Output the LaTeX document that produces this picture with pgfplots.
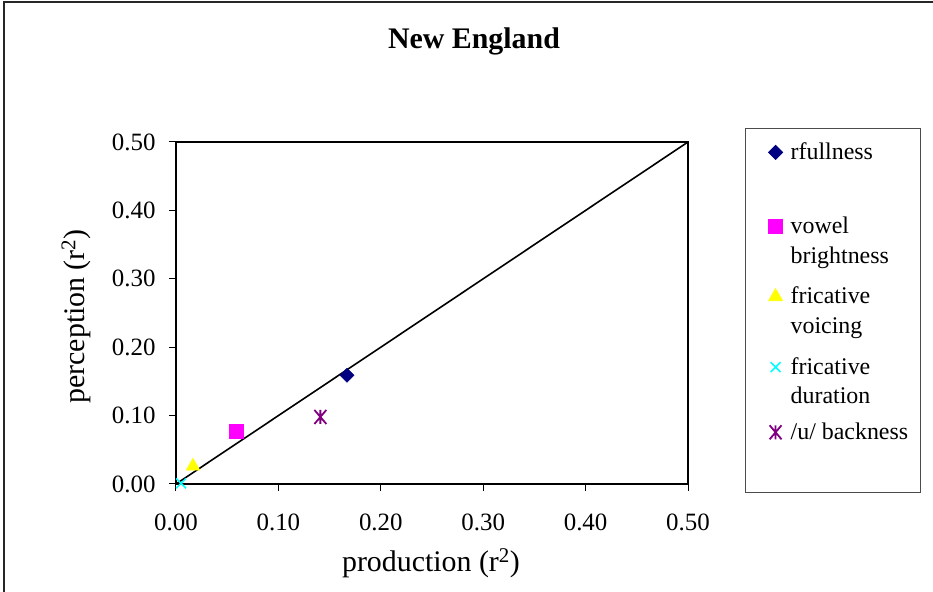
\documentclass[border=0pt]{standalone}
\usepackage{pgfplots}
\pgfplotsset{compat=1.18}
\usepackage{fontspec}
\setmainfont{Liberation Serif}
\definecolor{cNavy}{RGB}{0,0,128}
\definecolor{cMag}{RGB}{255,0,255}
\definecolor{cYel}{RGB}{255,255,0}
\definecolor{cCyan}{RGB}{0,255,255}
\definecolor{cPurp}{RGB}{128,0,128}
\pgfdeclareplotmark{xbar}{%
  \pgfpathmoveto{\pgfqpoint{-0.85\pgfplotmarksize}{-\pgfplotmarksize}}%
  \pgfpathlineto{\pgfqpoint{0.85\pgfplotmarksize}{\pgfplotmarksize}}%
  \pgfpathmoveto{\pgfqpoint{-0.85\pgfplotmarksize}{\pgfplotmarksize}}%
  \pgfpathlineto{\pgfqpoint{0.85\pgfplotmarksize}{-\pgfplotmarksize}}%
  \pgfpathmoveto{\pgfqpoint{0pt}{-\pgfplotmarksize}}%
  \pgfpathlineto{\pgfqpoint{0pt}{\pgfplotmarksize}}%
  \pgfusepathqstroke}
\newcommand{\legtwo}[2]{\parbox[t]{120bp}{\raggedright #1\newline #2}}
\begin{document}
\begin{tikzpicture}[x=1bp,y=1bp]
\useasboundingbox (-176,-108) rectangle (757,484);
\draw[line width=1.5bp,black!85] (-172,-112) -- (-172,482) -- (760,482);
\begin{axis}[
  at={(0,0)}, anchor=origin,
  scale only axis, width=512bp, height=342bp,
  xmin=0, xmax=0.5, ymin=0, ymax=0.5,
  axis line style={line width=1.6bp},
  xtick={0,0.1,0.2,0.3,0.4,0.5},
  ytick={0,0.1,0.2,0.3,0.4,0.5},
  tick align=outside, tick pos=left,
  major tick length=7bp,
  tick style={line width=1bp, black},
  /pgf/number format/assume math mode=true,
  /pgf/number format/fixed, /pgf/number format/fixed zerofill,
  /pgf/number format/precision=2,
  ticklabel style={font=\fontsize{25}{28}\selectfont},
  xticklabel style={yshift=-19bp},
  yticklabel style={xshift=-10bp},
  xlabel={production (r\textsuperscript{2})},
  ylabel={perception (r\textsuperscript{2})},
  label style={font=\fontsize{30}{34}\selectfont},
  xlabel style={at={(axis description cs:0.498,-0.231)}, anchor=center},
  ylabel style={at={(axis description cs:-0.195,0.49)}, anchor=center},
  title={\textbf{New England}},
  title style={font=\fontsize{30}{34}\selectfont, at={(axis description cs:0.582,1.278)}, anchor=center},
  legend cell align=left,
  legend style={at={(axis description cs:1.1113,1.0409)}, anchor=north west,
    draw=black!70, line width=1.2bp, inner xsep=8bp, inner ysep=12bp,
    font=\fontsize{24}{30}\selectfont,
    nodes={text depth={}, text height={}},
    cells={anchor=base west}, row sep=14.5bp, column sep=6bp,
    legend image post style={line width=0.8bp}},
  legend image code/.code={\path[draw=none,fill=none] (0bp,7bp) -- (29bp,7bp);\draw[#1] plot coordinates {(22bp,7bp)};},
  clip=false,
]
\addplot[only marks, mark=square*, mark size=5bp, mark options={rotate=45}, color=cNavy] coordinates {(0.167,0.159)};
\addlegendentry{\legtwo{rfullness}{\strut}}
\addplot[only marks, mark=square*, mark size=7bp, color=cMag] coordinates {(0.0586,0.0775)};
\addlegendentry{\legtwo{vowel}{brightness}}
\addplot[only marks, mark=triangle*, mark size=8bp, color=cYel] coordinates {(0.0166,0.026)};
\addlegendentry{\legtwo{fricative}{voicing}}
\addplot[only marks, mark=x, mark size=7bp, color=cCyan, mark options={line width=1.5bp}] coordinates {(0.005,0.001)};
\addlegendentry{\legtwo{fricative}{duration}}
\addplot[only marks, mark=xbar, mark size=7bp, color=cPurp, mark options={line width=1.8bp}] coordinates {(0.141,0.098)};
\addlegendentry{\legtwo{/u/ backness}{\strut}}
\addplot[black, line width=1.6bp, forget plot] coordinates {(0,0) (0.5,0.5)};
\end{axis}
\end{tikzpicture}
\end{document}
